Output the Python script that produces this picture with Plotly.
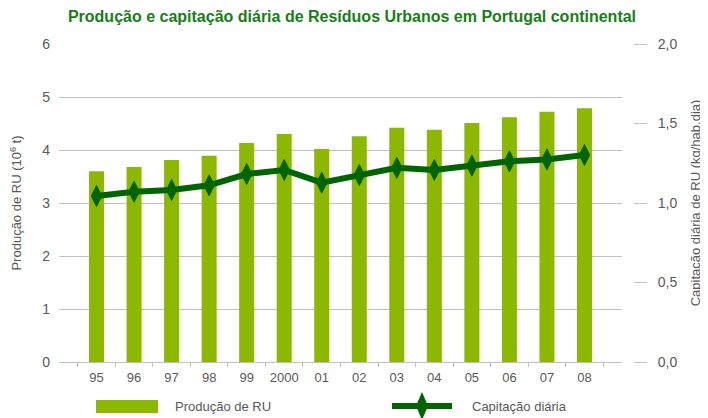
import plotly.graph_objects as go

YEARS = ["95", "96", "97", "98", "99", "2000", "01", "02", "03", "04", "05", "06", "07", "08"]
PRODUCAO = [3.60, 3.68, 3.81, 3.89, 4.13, 4.30, 4.02, 4.26, 4.42, 4.38, 4.51, 4.62, 4.72, 4.79]
CAPITACAO = [1.044, 1.071, 1.082, 1.111, 1.182, 1.208, 1.128, 1.176, 1.221, 1.208, 1.235, 1.262, 1.274, 1.302]
LEFT_TICKS = [0, 1, 2, 3, 4, 5, 6]
RIGHT_TICKS = [0.0, 0.5, 1.0, 1.5, 2.0]

BAR_GREEN = "#8cb800"
LINE_GREEN = "#006400"
TITLE_GREEN = "#158015"
GRAY_TXT = "#595959"
GRID = "#c0c0c0"

# page puts the figure 8px in from the window corner
OFF = 8
W, H = 708 - OFF, 418 - OFF
ML, MT = 59 - OFF, 44 - OFF
MB = H - (362 - OFF)
MR = 30
PW = W - ML - MR
PH = H - MT - MB

def px_x(p):
    # reference window pixel -> paper fraction
    return (p - OFF - ML) / PW

def px_y(p):
    return (H - MB - (p - OFF)) / PH

fig = go.Figure()

fig.add_trace(go.Bar(
    x=YEARS, y=PRODUCAO, width=0.4,
    marker=dict(color=BAR_GREEN, line=dict(width=0)),
    name="Produção de RU", showlegend=False,
))

fig.add_trace(go.Scatter(
    x=YEARS, y=CAPITACAO, yaxis="y2", mode="lines+markers",
    line=dict(color=LINE_GREEN, width=6),
    marker=dict(symbol="diamond-tall", size=15, color=LINE_GREEN, line=dict(width=1, color=LINE_GREEN)),
    name="Capitação diária", showlegend=False,
))

# manual legend below the plot
ly = px_y(406)
shapes = [
    dict(type="rect", xref="paper", yref="paper", x0=px_x(96), x1=px_x(158), y0=px_y(413), y1=px_y(400),
         fillcolor=BAR_GREEN, line=dict(width=0)),
    dict(type="line", xref="paper", yref="paper", x0=px_x(392), x1=px_x(452), y0=ly, y1=ly,
         line=dict(color=LINE_GREEN, width=6)),
    dict(type="path", xref="paper", yref="paper",
         path=f"M {px_x(422)},{px_y(392)} L {px_x(428)},{ly} L {px_x(422)},{px_y(420)} L {px_x(416)},{ly} Z",
         fillcolor=LINE_GREEN, line=dict(width=0)),
]
annotations = [
    dict(text="Produção de RU", xref="paper", yref="paper", x=px_x(173), y=ly, xanchor="left", yanchor="middle",
         showarrow=False, font=dict(size=13, color=GRAY_TXT)),
    dict(text="Capitação diária", xref="paper", yref="paper", x=px_x(470), y=ly, xanchor="left", yanchor="middle",
         showarrow=False, font=dict(size=13, color=GRAY_TXT)),
]

fig.update_layout(
    width=W, height=H,
    margin=dict(l=ML, r=MR, t=MT, b=MB, autoexpand=False),
    plot_bgcolor="white", paper_bgcolor="white",
    separators=",.",
    font=dict(family="Liberation Sans, Arial, sans-serif", size=13, color=GRAY_TXT),
    title=dict(
        text="Produção e capitação diária de Resíduos Urbanos em Portugal continental",
        font=dict(family="Liberation Sans, Arial, sans-serif", size=16, color=TITLE_GREEN, weight="bold"),
        x=px_x(352), xanchor="center", xref="paper", y=1 - (16 - OFF) / H, yanchor="middle",
    ),
    xaxis=dict(
        domain=[0, px_x(622)], showgrid=False, zeroline=False, automargin=False,
        showline=True, linecolor=GRID, linewidth=1, tickangle=0,
        ticks="outside", tickson="boundaries", ticklen=4, tickcolor=GRID, ticklabelstandoff=3,
        tickfont=dict(size=13, color=GRAY_TXT),
    ),
    yaxis=dict(
        range=[0, 6], tickvals=LEFT_TICKS, showgrid=True, gridcolor=GRID, gridwidth=1,
        zeroline=False, showline=False, ticks="", ticklabelstandoff=8, automargin=False,
        tickfont=dict(size=14, color=GRAY_TXT),
        title=dict(text="Produção de RU (10<sup>6</sup> t)", font=dict(size=13, color=GRAY_TXT), standoff=21),
    ),
    yaxis2=dict(
        range=[0, 2], tickvals=RIGHT_TICKS, tickformat=".1f", overlaying="y", side="right",
        anchor="free", position=px_x(633), showgrid=False, zeroline=False, showline=False,
        ticks="outside", ticklen=13, tickcolor=GRID, ticklabelstandoff=8, automargin=False,
        tickfont=dict(size=14, color=GRAY_TXT),
        title=dict(text="Capitação diária de RU (kg/hab.dia)", font=dict(size=13, color=GRAY_TXT), standoff=14),
    ),
    shapes=shapes,
    annotations=annotations,
)

fig.write_html("out.html")
